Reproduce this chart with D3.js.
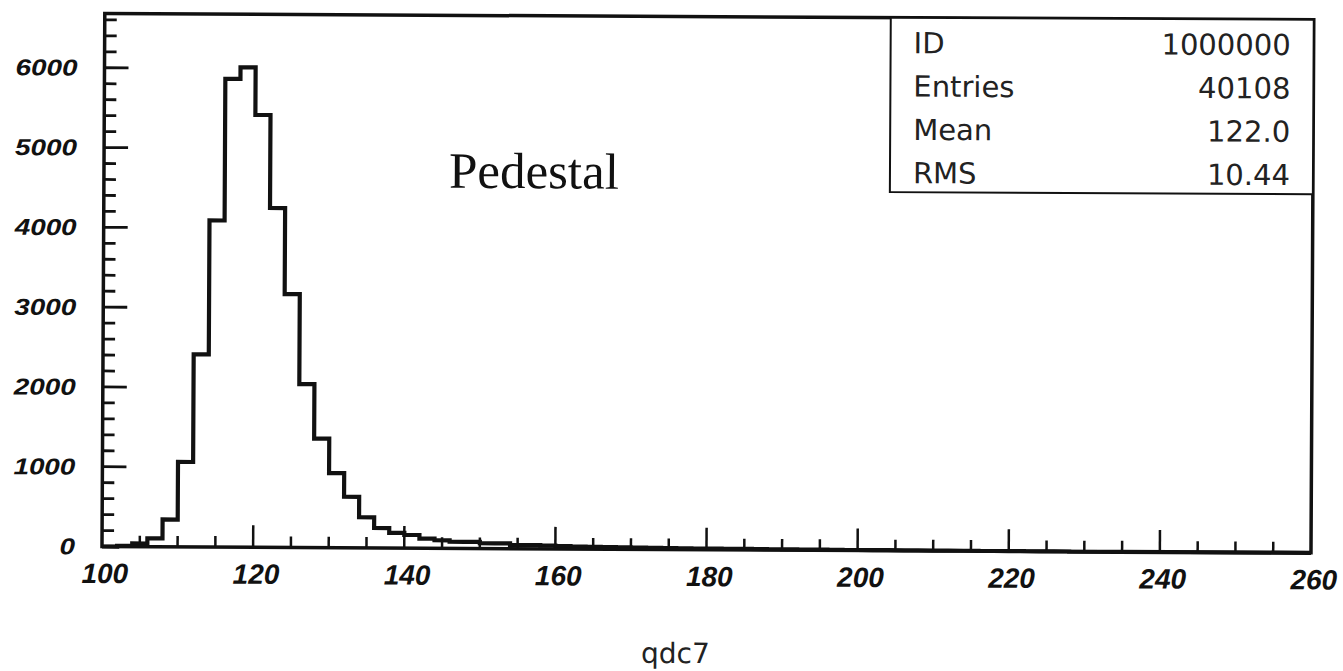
<!DOCTYPE html>
<html>
<head>
<meta charset="utf-8">
<script src="https://cdn.jsdelivr.net/npm/d3@7"></script>
<style>
  body { margin: 0; background: #fff; }
  svg { display: block; }
</style>
</head>
<body>
<div id="chart"></div>
<script>
// bin lower edges (bin width 2) and counts
const binLo = [100, 102, 104, 106, 108, 110, 112, 114, 116, 118, 120, 122, 124, 126, 128,
    130, 132, 134, 136, 138, 140, 142, 144, 146, 148, 150, 152, 154, 156, 158, 160,
    162, 164, 166, 168, 170, 172, 174, 176, 178, 180, 182, 184, 186, 188, 190, 192,
    194, 196, 198, 200, 202, 204, 206, 208, 210, 212, 214, 216, 218, 220, 222, 224,
    226, 228];
const counts = [0, 10, 40, 105, 343, 1065, 2415, 4094, 5870, 6015, 5419, 4253, 3175, 2048, 1366,
    935, 640, 383, 250, 190, 165, 120, 100, 83, 83, 66, 66, 45, 45, 40, 35,
    30, 28, 26, 24, 22, 20, 18, 16, 15, 14, 13, 12, 11, 10, 9, 8,
    8, 7, 6, 6, 5, 5, 4, 4, 3, 3, 3, 2, 2, 2, 1, 1,
    1, 0];

const xTickLabels = [100, 120, 140, 160, 180, 200, 220, 240, 260];
const yTickLabels = [0, 1000, 2000, 3000, 4000, 5000, 6000];

const statNames = ["ID", "Entries", "Mean", "RMS"];
const statValues = ["1000000", "40108", "122.0", "10.44"];

const xTitle = "qdc7";
const note = "Pedestal";

const W = 1343, H = 671;
const x = d3.scaleLinear().domain([100, 260]).range([102, 1311]);
const y = d3.scaleLinear().domain([0, 6680]).range([546.5, 13.5]);

const svg = d3.select("#chart").append("svg")
    .attr("width", W)
    .attr("height", H);

// the scan is a little tilted
const g = svg.append("g")
    .attr("transform", `rotate(0.3, ${x(100)}, ${y(0)})`);

// y ticks: minor every 200, major every 1000
const yMinor = d3.range(0, 6680, 200);
g.selectAll(".ytick")
    .data(yMinor)
    .enter()
    .append("line")
    .attr("x1", x(100))
    .attr("x2", d => x(100) + (d % 1000 === 0 ? 24 : 12))
    .attr("y1", d => y(d))
    .attr("y2", d => y(d))
    .attr("stroke", "#111")
    .attr("stroke-width", 2.8);

// x ticks: minor every 5, major every 20
const xMinor = d3.range(105, 260, 5);
g.selectAll(".xtick")
    .data(xMinor)
    .enter()
    .append("line")
    .attr("x1", d => x(d))
    .attr("x2", d => x(d))
    .attr("y1", y(0))
    .attr("y2", d => y(0) - (d % 20 === 0 ? 22 : 11))
    .attr("stroke", "#111")
    .attr("stroke-width", 2.5);

// histogram outline
const pts = binLo.map((lo, i) => ({ x: lo, c: counts[i] }));
pts.push({ x: 260, c: 0 });
const line = d3.line()
    .x(d => x(d.x))
    .y(d => y(d.c))
    .curve(d3.curveStepAfter);

g.append("path")
    .datum(pts)
    .attr("d", line)
    .attr("fill", "none")
    .attr("stroke", "#111")
    .attr("stroke-width", 4.2)
    .attr("stroke-linejoin", "miter");

// frame
g.append("rect")
    .attr("x", x(100))
    .attr("y", y(6680))
    .attr("width", x(260) - x(100))
    .attr("height", y(0) - y(6680))
    .attr("fill", "none")
    .attr("stroke", "#111")
    .attr("stroke-width", 3.5);

// tick labels
g.selectAll(".ylab")
    .data(yTickLabels)
    .enter()
    .append("text")
    .attr("x", 75)
    .attr("y", d => y(d) + 8)
    .attr("text-anchor", "end")
    .attr("textLength", d => String(d).length * 15.5)
    .attr("lengthAdjust", "spacingAndGlyphs")
    .style("font-family", "'Liberation Sans', Arial, sans-serif")
    .style("font-weight", "bold")
    .style("font-style", "italic")
    .style("font-size", "23px")
    .attr("fill", "#111")
    .text(d => d);

g.selectAll(".xlab")
    .data(xTickLabels)
    .enter()
    .append("text")
    .attr("x", d => x(d) + 3)
    .attr("y", 583)
    .attr("text-anchor", "middle")
    .style("font-family", "'Liberation Sans', Arial, sans-serif")
    .style("font-weight", "bold")
    .style("font-style", "italic")
    .style("font-size", "28px")
    .attr("fill", "#111")
    .text(d => d);

// axis title
g.append("text")
    .attr("x", 676)
    .attr("y", 660)
    .attr("text-anchor", "middle")
    .style("font-family", "'DejaVu Sans', sans-serif")
    .style("font-size", "28px")
    .attr("fill", "#222")
    .text(xTitle);

// annotation
g.append("text")
    .attr("x", 447)
    .attr("y", 186)
    .style("font-family", "'Liberation Serif', 'Times New Roman', serif")
    .style("font-size", "51px")
    .attr("fill", "#111")
    .text(note);

// statistics box
const boxLeft = 888, boxTop = y(6680), boxBottom = 188;
g.append("rect")
    .attr("x", boxLeft)
    .attr("y", boxTop)
    .attr("width", x(260) - boxLeft)
    .attr("height", boxBottom - boxTop)
    .attr("fill", "#fff")
    .attr("stroke", "#111")
    .attr("stroke-width", 2);

const rowY = d3.scalePoint().domain(statNames).range([49, 179]);

g.selectAll(".statname")
    .data(statNames)
    .enter()
    .append("text")
    .attr("x", 911)
    .attr("y", d => rowY(d))
    .style("font-family", "'DejaVu Sans', sans-serif")
    .style("font-size", "29px")
    .attr("fill", "#222")
    .text(d => d);

g.selectAll(".statval")
    .data(statValues)
    .enter()
    .append("text")
    .attr("x", 1288)
    .attr("y", (d, i) => rowY(statNames[i]))
    .attr("text-anchor", "end")
    .style("font-family", "'DejaVu Sans', sans-serif")
    .style("font-size", "29px")
    .attr("fill", "#222")
    .text(d => d);
</script>
</body>
</html>
